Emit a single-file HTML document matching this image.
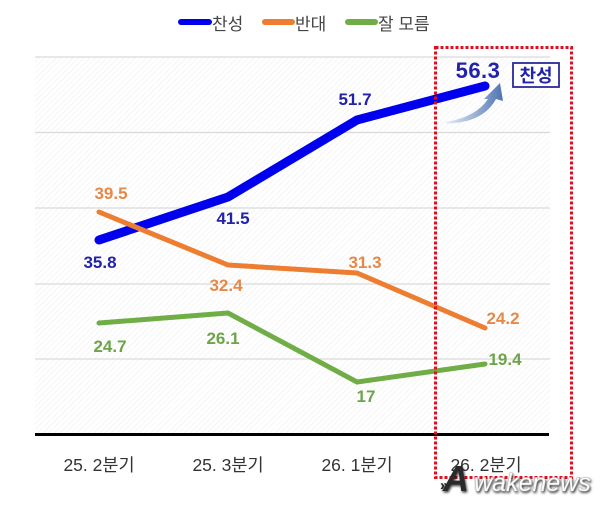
<!DOCTYPE html>
<html><head><meta charset="utf-8">
<style>
html,body{margin:0;padding:0;background:#fff;}
#wrap{position:relative;width:605px;height:506px;overflow:hidden;background:#fff;}
#hatch{position:absolute;left:35px;top:57px;width:515px;height:377px;
background:repeating-linear-gradient(135deg,#ffffff 0px,#ffffff 3px,#f5f5f5 3px,#f5f5f5 4px);}
svg{position:absolute;left:0;top:0;}
text{font-family:"Liberation Sans","Noto Sans CJK KR",sans-serif;}
</style></head><body>
<div id="wrap">
<div id="hatch"></div>
<svg width="605" height="506" viewBox="0 0 605 506" xmlns="http://www.w3.org/2000/svg">
<defs>
<linearGradient id="ag" x1="0" y1="0" x2="1" y2="0">
<stop offset="0" stop-color="#e6ecf5"/>
<stop offset="0.6" stop-color="#8ea6d0"/>
<stop offset="1" stop-color="#4f73b3"/>
</linearGradient>
<filter id="sh" x="-10%" y="-30%" width="130%" height="160%">
<feGaussianBlur in="SourceAlpha" stdDeviation="1.2"/>
<feOffset dx="1" dy="1.5" result="b"/>
<feComponentTransfer><feFuncA type="linear" slope="0.8"/></feComponentTransfer>
<feMerge><feMergeNode/><feMergeNode in="SourceGraphic"/></feMerge>
</filter>
</defs>
<!-- legend -->
<line x1="181" y1="22" x2="209" y2="22" stroke="#0000ee" stroke-width="6" stroke-linecap="round"/>
<text x="212" y="30" font-size="17" fill="#444">찬성</text>
<line x1="265" y1="22" x2="292" y2="22" stroke="#ed7d31" stroke-width="6" stroke-linecap="round"/>
<text x="295" y="30" font-size="17" fill="#444">반대</text>
<line x1="348" y1="22" x2="375" y2="22" stroke="#70ad47" stroke-width="6" stroke-linecap="round"/>
<text x="378" y="30" font-size="17" fill="#444">잘 모름</text>
<!-- gridlines -->
<g stroke="#d9d9d9" stroke-width="1.2">
<line x1="35" y1="57" x2="550" y2="57"/>
<line x1="35" y1="132.5" x2="550" y2="132.5"/>
<line x1="35" y1="208" x2="550" y2="208"/>
<line x1="35" y1="284" x2="550" y2="284"/>
<line x1="35" y1="359" x2="550" y2="359"/>
</g>
<!-- axis -->
<line x1="35" y1="434.5" x2="549" y2="434.5" stroke="#000" stroke-width="3"/>
<!-- x labels -->
<g font-size="17.5" fill="#333" text-anchor="middle">
<text x="99" y="471">25. 2분기</text>
<text x="228" y="471">25. 3분기</text>
<text x="357" y="471">26. 1분기</text>
<text x="486" y="471">26. 2분기</text>
</g>
<!-- series -->
<polyline points="99,240 228,197 357,120 485,86" fill="none" stroke="#0000ee" stroke-width="9" stroke-linecap="round" stroke-linejoin="round"/>
<polyline points="99,212 228,265 357,273 485,328" fill="none" stroke="#ed7d31" stroke-width="5" stroke-linecap="round" stroke-linejoin="round"/>
<polyline points="99,323 228,313 357,382 485,364" fill="none" stroke="#70ad47" stroke-width="5" stroke-linecap="round" stroke-linejoin="round"/>
<!-- data labels -->
<g font-size="17" font-weight="bold" text-anchor="middle">
<text x="100" y="268" fill="#2222aa">35.8</text>
<text x="233" y="224" fill="#2222aa">41.5</text>
<text x="355" y="105" fill="#2222aa">51.7</text>
<text x="111" y="199" fill="#e4894a">39.5</text>
<text x="226" y="291" fill="#e4894a">32.4</text>
<text x="365" y="268" fill="#e4894a">31.3</text>
<text x="503" y="324" fill="#e4894a">24.2</text>
<text x="110" y="352" fill="#6ea34a">24.7</text>
<text x="223" y="344" fill="#6ea34a">26.1</text>
<text x="366" y="402" fill="#6ea34a">17</text>
<text x="505" y="365" fill="#6ea34a">19.4</text>
</g>
<text x="478" y="78" font-size="22" font-weight="bold" fill="#2222aa" text-anchor="middle" letter-spacing="0.5">56.3</text>
<!-- arrow -->
<path d="M446,122 Q476,117 488,99 L484,99 L500,83 L503,101 L496,99 Q483,123 446,123.5 Z" fill="url(#ag)"/>
<!-- 찬성 box -->
<rect x="513" y="63" width="46" height="24" fill="#fff" stroke="#2a2a9a" stroke-width="1.8"/>
<text x="536" y="82" font-size="18" font-weight="bold" fill="#2222aa" text-anchor="middle">찬성</text>
<!-- red dotted box -->
<rect x="435.5" y="47.5" width="136" height="430" fill="none" stroke="#dd1020" stroke-width="3" stroke-dasharray="3 2"/>
<!-- watermark -->
<g filter="url(#sh)">
<text x="440" y="490" font-size="15" font-weight="bold" fill="#222">»</text>
<text x="443" y="491" font-size="36" font-weight="bold" font-style="italic" fill="#2a2a2a">A</text>
<text x="474" y="491" font-size="25" font-style="italic" fill="#fafafa" stroke="#9a9a9a" stroke-width="0.8" paint-order="stroke">wakenews</text>
</g>
</svg>
</div>
</body></html>
